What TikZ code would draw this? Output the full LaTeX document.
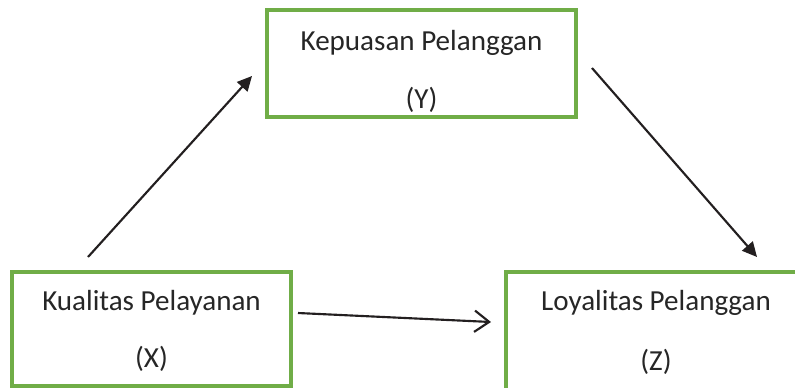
\documentclass[tikz,border=0pt]{standalone}
\usepackage{fontspec}
\setmainfont{Carlito}
\usetikzlibrary{arrows.meta}
\definecolor{boxgreen}{RGB}{112,173,71}
\definecolor{arrowdark}{RGB}{35,31,32}
\begin{document}
\begin{tikzpicture}[x=0.75pt,y=-0.75pt,
  varbox/.style={draw=boxgreen,line width=2.3pt,fill=white,inner sep=0pt},
  lbl/.style={font=\fontsize{21.8}{26}\selectfont,text=black!85,inner sep=0pt,anchor=center},
  solidarrow/.style={draw=arrowdark,line width=1.6pt,-{Triangle[length=11pt,width=10.5pt]}},
  openarrow/.style={draw=arrowdark,line width=1.6pt,-{Straight Barb[length=11pt,width=16pt,line width=1.6pt]}}]
\useasboundingbox (0,0) rectangle (795,387);
\clip (0,0) rectangle (795,387);
\fill[white] (0,0) rectangle (795,387);
% boxes
\node[varbox,minimum width=309*0.75pt,minimum height=107*0.75pt] (Y) at (421.5,63.5) {};
\node[varbox,minimum width=279*0.75pt,minimum height=114*0.75pt] (X) at (151.5,329) {};
\node[varbox,minimum width=300*0.75pt,minimum height=130*0.75pt] (Z) at (656,337) {};
% texts
\node[lbl] (Yt) at (421.5,43) {Kepuasan Pelanggan};
\node[lbl] (Yv) at (421.5,100) {(Y)};
\node[lbl] (Xt) at (151.5,303) {Kualitas Pelayanan};
\node[lbl] (Xv) at (151.5,359) {(X)};
\node[lbl] (Zt) at (656,303) {Loyalitas Pelanggan};
\node[lbl] (Zv) at (656,362) {(Z)};
% connector ends
\coordinate (xy0) at (88,257);
\coordinate (xy1) at (252,76);
\coordinate (yz0) at (592,68);
\coordinate (yz1) at (757,257);
\coordinate (xz0) at (298,313);
\coordinate (xz1) at (491,322);
\draw[solidarrow] (xy0) -- (xy1);
\draw[solidarrow] (yz0) -- (yz1);
\draw[openarrow] (xz0) -- (xz1);
\end{tikzpicture}
\end{document}
